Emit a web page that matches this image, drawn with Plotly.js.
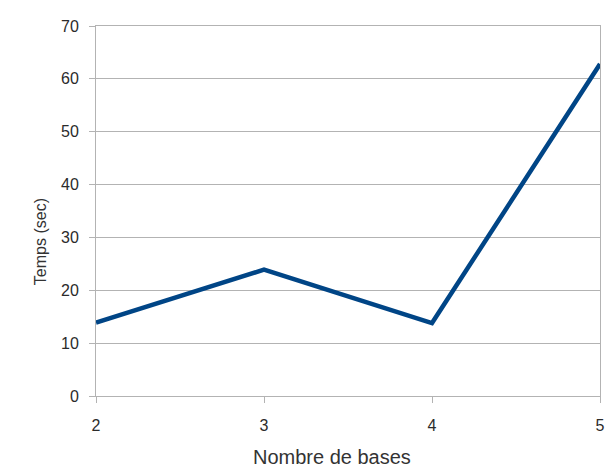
<!DOCTYPE html>
<html>
<head>
<meta charset="utf-8">
<script src="https://cdn.plot.ly/plotly-3.0.1.min.js"></script>
<style>html,body{margin:0;padding:0;background:#fff;}</style>
</head>
<body>
<div id="chart" style="width:608px;height:473px;"></div>
<script>
const bases = [2, 3, 4, 5];
const temps = [13.9, 23.9, 13.8, 62.8];
const yTicks = [0, 10, 20, 30, 40, 50, 60, 70];
const xTitle = 'Nombre de bases';
const yTitle = 'Temps (sec)';

const trace = {
  x: bases,
  y: temps,
  type: 'scatter',
  mode: 'lines',
  line: {color: '#004586', width: 4.5},
  hoverinfo: 'x+y'
};

const tickFont = {family: 'Liberation Sans, Arial, sans-serif', size: 16, color: '#2b2b2b'};

const layout = {
  width: 608,
  height: 473,
  margin: {l: 96, r: 8, t: 26, b: 77},
  paper_bgcolor: '#ffffff',
  plot_bgcolor: '#ffffff',
  showlegend: false,
  font: {family: 'Liberation Sans, Arial, sans-serif', size: 14, color: '#333333'},
  xaxis: {
    range: [2, 5],
    tickvals: bases,
    ticktext: bases.map(String),
    showgrid: false,
    zeroline: false,
    showline: true,
    linecolor: '#b3b3b3',
    linewidth: 1,
    mirror: true,
    ticks: 'outside',
    ticklen: 6,
    tickcolor: '#b3b3b3',
    ticklabelstandoff: 9,
    tickfont: tickFont
  },
  yaxis: {
    range: [0, 70],
    tickvals: yTicks,
    showgrid: true,
    gridcolor: '#b3b3b3',
    gridwidth: 1,
    zeroline: false,
    showline: true,
    linecolor: '#b3b3b3',
    linewidth: 1,
    mirror: true,
    ticks: 'outside',
    ticklen: 6,
    tickcolor: '#b3b3b3',
    ticklabelstandoff: 7,
    tickfont: tickFont
  },
  annotations: [
    {
      text: xTitle, xref: 'paper', yref: 'paper', x: 0.468, y: -0.165,
      xanchor: 'center', yanchor: 'middle', showarrow: false,
      font: {size: 20, color: '#333333'}
    },
    {
      text: yTitle, xref: 'paper', yref: 'paper', x: -0.111, y: 0.416,
      xanchor: 'center', yanchor: 'middle', showarrow: false, textangle: -90,
      font: {size: 16, color: '#333333'}
    }
  ]
};

Plotly.newPlot('chart', [trace], layout, {displayModeBar: false, staticPlot: true});
</script>
</body>
</html>
